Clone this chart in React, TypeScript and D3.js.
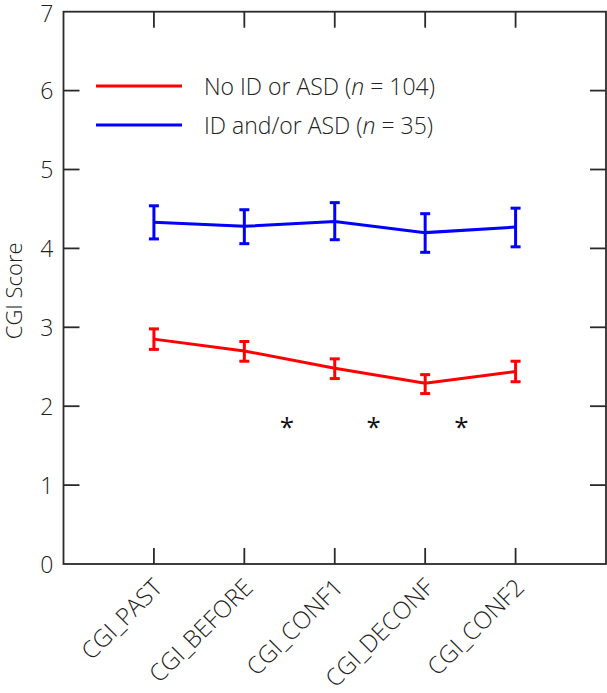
import React from "react";
import * as d3 from "d3";

const categories = ["CGI_PAST", "CGI_BEFORE", "CGI_CONF1", "CGI_DECONF", "CGI_CONF2"];
const noIdMean = [2.85, 2.70, 2.48, 2.29, 2.44];
const noIdLow = [2.72, 2.57, 2.35, 2.16, 2.31];
const noIdHigh = [2.98, 2.82, 2.60, 2.40, 2.57];
const idMean = [4.33, 4.28, 4.34, 4.20, 4.27];
const idLow = [4.12, 4.06, 4.11, 3.95, 4.02];
const idHigh = [4.54, 4.49, 4.58, 4.44, 4.51];
const yTicks = [0, 1, 2, 3, 4, 5, 6, 7];
const starPositions = [2.47, 3.43, 4.4];
const starLevel = 1.8;
const legendLabels = [
  { pre: "No ID or ASD (", n: "n", post: " = 104)", color: "#ff0000" },
  { pre: "ID and/or ASD (", n: "n", post: " = 35)", color: "#0000ff" },
];

const W = 607;
const H = 693;
const FONT = "'Open Sans', 'Noto Sans', sans-serif";

export default function App() {
  const x = d3.scaleLinear().domain([0, 6]).range([63.5, 606]);
  const y = d3.scaleLinear().domain([0, 7]).range([564, 11.7]);
  const line = d3
    .line<number>()
    .x((_, i) => x(i + 1))
    .y((d) => y(d));

  const series = [
    { mean: noIdMean, low: noIdLow, high: noIdHigh, color: "#ff0000" },
    { mean: idMean, low: idLow, high: idHigh, color: "#0000ff" },
  ];
  const tickLen = 16;
  const axisColor = "#2a2a2a";
  const cap = 5;

  return (
    <svg
      width={W}
      height={H}
      style={{ position: "absolute", left: 0, top: 0, background: "#fff" }}
      fontFamily={FONT}
      fontWeight={300}
    >
      <rect
        x={x(0)}
        y={y(7)}
        width={x(6) - x(0)}
        height={y(0) - y(7)}
        fill="none"
        stroke={axisColor}
        strokeWidth={1.8}
      />
      {yTicks.map((t) => (
        <g key={"y" + t}>
          {t > 0 && t < 7 && (
            <>
              <line x1={x(0)} x2={x(0) + tickLen} y1={y(t)} y2={y(t)} stroke={axisColor} strokeWidth={1.8} />
              <line x1={x(6)} x2={x(6) - tickLen} y1={y(t)} y2={y(t)} stroke={axisColor} strokeWidth={1.8} />
            </>
          )}
          <text x={x(0) - 10} y={y(t)} dy={t === 7 ? "0.45em" : "0.38em"} textAnchor="end" fontSize={23} fill="#222">
            {t}
          </text>
        </g>
      ))}
      {categories.map((c, i) => (
        <g key={c}>
          <line x1={x(i + 1)} x2={x(i + 1)} y1={y(0)} y2={y(0) - tickLen} stroke={axisColor} strokeWidth={1.8} />
          <line x1={x(i + 1)} x2={x(i + 1)} y1={y(7)} y2={y(7) + tickLen} stroke={axisColor} strokeWidth={1.8} />
          <text
            transform={`translate(${x(i + 1) + 10},${y(0) + 25}) rotate(-45)`}
            textAnchor="end"
            fontSize={24}
            fill="#222"
          >
            {c}
          </text>
        </g>
      ))}
      <text
        transform={`translate(22,${(y(0) + y(7)) / 2 + 3}) rotate(-90)`}
        textAnchor="middle"
        fontSize={22}
        fill="#222"
      >
        CGI Score
      </text>
      {series.map((s, si) => (
        <g key={"s" + si}>
          <path d={line(s.mean) || ""} fill="none" stroke={s.color} strokeWidth={3} />
          {s.mean.map((_, i) => (
            <g key={i} stroke={s.color} strokeWidth={3}>
              <line x1={x(i + 1)} x2={x(i + 1)} y1={y(s.low[i])} y2={y(s.low[i]) + (y(s.high[i]) - y(s.low[i]))} />
              <line x1={x(i + 1) - cap} x2={x(i + 1) + cap} y1={y(s.low[i])} y2={y(s.low[i])} />
              <line x1={x(i + 1) - cap} x2={x(i + 1) + cap} y1={y(s.high[i])} y2={y(s.high[i])} />
            </g>
          ))}
        </g>
      ))}
      {starPositions.map((p, i) => (
        <text
          key={"st" + i}
          x={x(p)}
          y={y(starLevel)}
          dy="0.55em"
          textAnchor="middle"
          fontSize={26}
          fontWeight={400}
          fill="#111"
        >
          *
        </text>
      ))}
      {legendLabels.map((l, i) => {
        const ly = 86 + i * 39;
        return (
          <g key={"l" + i}>
            <line x1={96} x2={182} y1={ly} y2={ly} stroke={l.color} strokeWidth={3} />
            <text x={204} y={ly} dy="0.37em" fontSize={23} fill="#222">
              {l.pre}
              <tspan fontStyle="italic">{l.n}</tspan>
              {l.post}
            </text>
          </g>
        );
      })}
    </svg>
  );
}
